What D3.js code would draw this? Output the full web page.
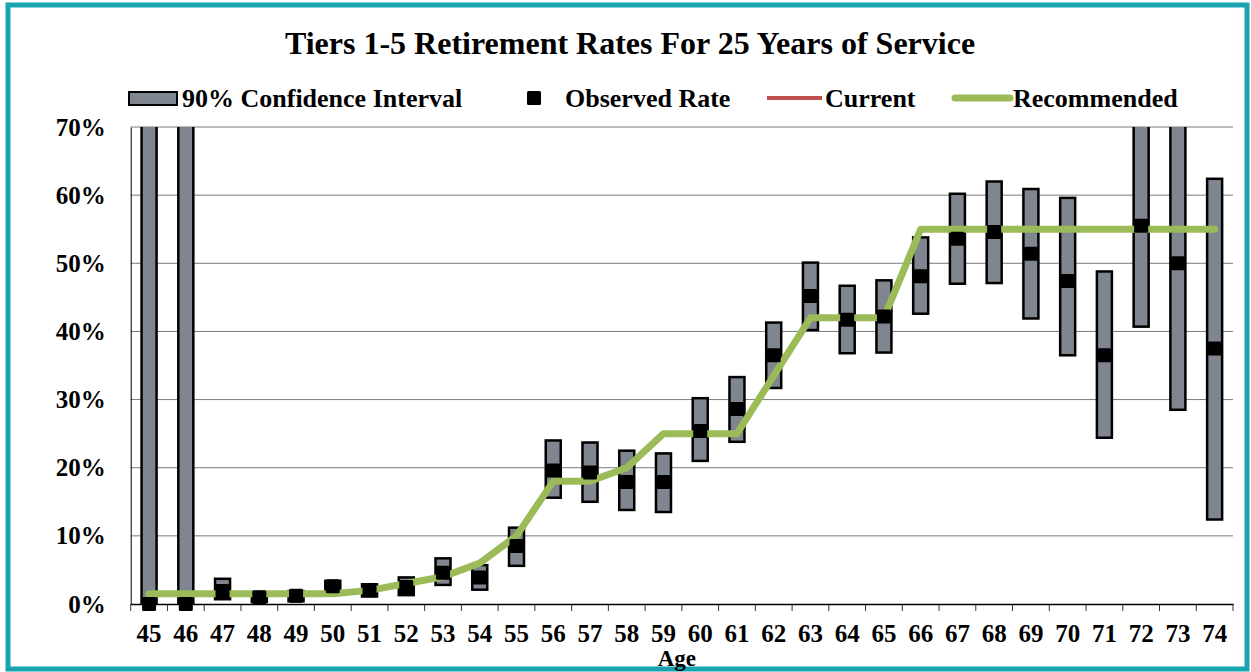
<!DOCTYPE html>
<html>
<head>
<meta charset="utf-8">
<script src="https://cdn.jsdelivr.net/npm/d3@7"></script>
<style>
  body { margin: 0; background: #fff; }
  svg { display: block; }
  text { font-family: "Liberation Serif", "Times New Roman", serif; font-weight: bold; fill: #000; }
</style>
</head>
<body>
<svg id="chart" width="1251" height="672"></svg>
<script>
// Ages along the x axis
const ages = [45, 46, 47, 48, 49, 50, 51, 52, 53, 54, 55, 56, 57, 58, 59,
  60, 61, 62, 63, 64, 65, 66, 67, 68, 69, 70, 71, 72, 73, 74];

// 90% confidence interval, lower and upper bounds (%)
const ciLower = [0, 0, 0.7, 0.3, 0.4, 1.7, 1.1, 1.3, 2.8, 2.1, 5.6, 15.6, 15.0, 13.8, 13.5,
  21.0, 23.8, 31.7, 40.2, 36.8, 36.9, 42.6, 47.0, 47.1, 41.9, 36.5, 24.4, 40.7, 28.5, 12.4];
const ciUpper = [100, 100, 3.7, 1.7, 1.9, 3.4, 2.9, 3.9, 6.7, 5.7, 11.2, 24.0, 23.7, 22.5, 22.1,
  30.2, 33.3, 41.3, 50.1, 46.7, 47.5, 53.8, 60.2, 62.0, 60.9, 59.6, 48.8, 75, 75, 62.4];

// Observed retirement rate (%)
const observed = [0, 0, 1.9, 1.0, 1.2, 2.6, 2.0, 2.5, 4.6, 3.9, 8.5, 19.6, 19.3, 17.9, 17.9,
  25.4, 28.6, 36.5, 45.2, 41.7, 42.2, 48.1, 53.6, 54.6, 51.4, 47.4, 36.5, 55.5, 50.0, 37.5];

// Current and recommended assumptions (%)
const current = [1.5, 1.5, 1.5, 1.5, 1.5, 1.5, 2, 3, 4, 6, 10, 18, 18, 20, 25,
  25, 25, 33.5, 42, 42, 42, 55, 55, 55, 55, 55, 55, 55, 55, 55];
const recommended = [1.5, 1.5, 1.5, 1.5, 1.5, 1.5, 2, 3, 4, 6, 10, 18, 18, 20, 25,
  25, 25, 33.5, 42, 42, 42, 55, 55, 55, 55, 55, 55, 55, 55, 55];

const yTicks = [0, 10, 20, 30, 40, 50, 60, 70];

const W = 1251, H = 672;
const margin = { top: 127, right: 18, bottom: 68, left: 130.7 };
const innerW = W - margin.left - margin.right;
const innerH = H - margin.top - margin.bottom;

const svg = d3.select('#chart');

// Frame
svg.append('rect')
  .attr('x', 8).attr('y', 5)
  .attr('width', 1239).attr('height', 664)
  .attr('fill', 'none')
  .attr('stroke', '#19A3B1')
  .attr('stroke-width', 5);

const x = d3.scaleBand().domain(ages).range([0, innerW]).padding(0);
const y = d3.scaleLinear().domain([0, 70]).range([innerH, 0]);

const g = svg.append('g').attr('transform', `translate(${margin.left},${margin.top})`);

svg.append('defs').append('clipPath').attr('id', 'plot-clip')
  .append('rect').attr('x', 0).attr('y', 0).attr('width', innerW).attr('height', innerH);

// Gridlines
g.append('g')
  .selectAll('line')
  .data(yTicks.filter((t) => t > 0))
  .join('line')
  .attr('x1', 0).attr('x2', innerW)
  .attr('y1', (d) => y(d)).attr('y2', (d) => y(d))
  .attr('stroke', '#7a7a7a').attr('stroke-width', 1);

// Y axis labels
const yAxis = d3.axisLeft(y).tickValues(yTicks).tickFormat((d) => d + '%').tickSize(0).tickPadding(25);
g.append('g').call(yAxis)
  .call((a) => a.select('.domain').attr('stroke', '#000').attr('stroke-width', 1))
  .call((a) => a.selectAll('text')
    .style('font-family', '"Liberation Serif", serif')
    .style('font-weight', 'bold')
    .style('font-size', '25px')
    .attr('fill', '#000'));

// X axis
const xAxis = d3.axisBottom(x).tickSize(0).tickPadding(20);
const xg = g.append('g').attr('transform', `translate(0,${innerH})`).call(xAxis);
xg.select('.domain').attr('stroke', '#000').attr('stroke-width', 1.5);
xg.selectAll('text')
  .style('font-family', '"Liberation Serif", serif')
  .style('font-weight', 'bold')
  .style('font-size', '25px')
  .attr('fill', '#000');

// tick marks at category boundaries
g.append('g')
  .selectAll('line')
  .data(d3.range(ages.length + 1))
  .join('line')
  .attr('x1', (i) => i * x.step()).attr('x2', (i) => i * x.step())
  .attr('y1', innerH).attr('y2', innerH + 7)
  .attr('stroke', '#000').attr('stroke-width', 0.8);

svg.append('text')
  .attr('x', margin.left + innerW / 2 - 5)
  .attr('y', 666)
  .attr('text-anchor', 'middle')
  .style('font-size', '23px')
  .text('Age');

// Plot content (clipped)
const plot = g.append('g').attr('clip-path', 'url(#plot-clip)');

const barW = 15;
plot.append('g')
  .selectAll('rect')
  .data(ages)
  .join('rect')
  .attr('x', (d) => x(d) + x.bandwidth() / 2 - barW / 2)
  .attr('y', (d, i) => y(ciUpper[i]))
  .attr('width', barW)
  .attr('height', (d, i) => y(ciLower[i]) - y(ciUpper[i]))
  .attr('fill', '#7f868f')
  .attr('stroke', '#000')
  .attr('stroke-width', 2.5);

const line = d3.line()
  .x((d, i) => x(ages[i]) + x.bandwidth() / 2)
  .y((d) => y(d));

plot.append('path')
  .datum(current)
  .attr('d', line)
  .attr('fill', 'none')
  .attr('stroke', '#C0504D')
  .attr('stroke-width', 4);

plot.append('path')
  .datum(recommended)
  .attr('d', line)
  .attr('fill', 'none')
  .attr('stroke', '#9BBB59')
  .attr('stroke-width', 7)
  .attr('stroke-linejoin', 'round')
  .attr('stroke-linecap', 'round');

// Observed markers
const mk = 14;
g.append('g')
  .selectAll('rect')
  .data(ages)
  .join('rect')
  .attr('x', (d) => x(d) + x.bandwidth() / 2 - mk / 2)
  .attr('y', (d, i) => y(observed[i]) - mk / 2)
  .attr('width', mk)
  .attr('height', mk)
  .attr('rx', 1.5)
  .attr('fill', '#000');

// Title
svg.append('text')
  .attr('x', 630)
  .attr('y', 54)
  .attr('text-anchor', 'middle')
  .style('font-size', '32px')
  .text('Tiers 1-5 Retirement Rates For 25 Years of Service');

// Legend
const legend = svg.append('g').style('font-size', '26px');
const ly = 98;

legend.append('rect')
  .attr('x', 129).attr('y', ly - 6).attr('width', 48).attr('height', 13)
  .attr('fill', '#7f868f').attr('stroke', '#000').attr('stroke-width', 2);
legend.append('text').attr('x', 182).attr('y', ly + 8.5).text('90% Confidence Interval');

legend.append('rect')
  .attr('x', 527).attr('y', ly - 7).attr('width', 14).attr('height', 14)
  .attr('rx', 1.5).attr('fill', '#000');
legend.append('text').attr('x', 565).attr('y', ly + 8.5).text('Observed Rate');

legend.append('line')
  .attr('x1', 767).attr('x2', 822).attr('y1', ly).attr('y2', ly)
  .attr('stroke', '#C0504D').attr('stroke-width', 4);
legend.append('text').attr('x', 825).attr('y', ly + 8.5).text('Current');

legend.append('line')
  .attr('x1', 955).attr('x2', 1010).attr('y1', ly).attr('y2', ly)
  .attr('stroke', '#9BBB59').attr('stroke-width', 7)
  .attr('stroke-linecap', 'round');
legend.append('text').attr('x', 1013).attr('y', ly + 8.5).text('Recommended');
</script>
</body>
</html>
